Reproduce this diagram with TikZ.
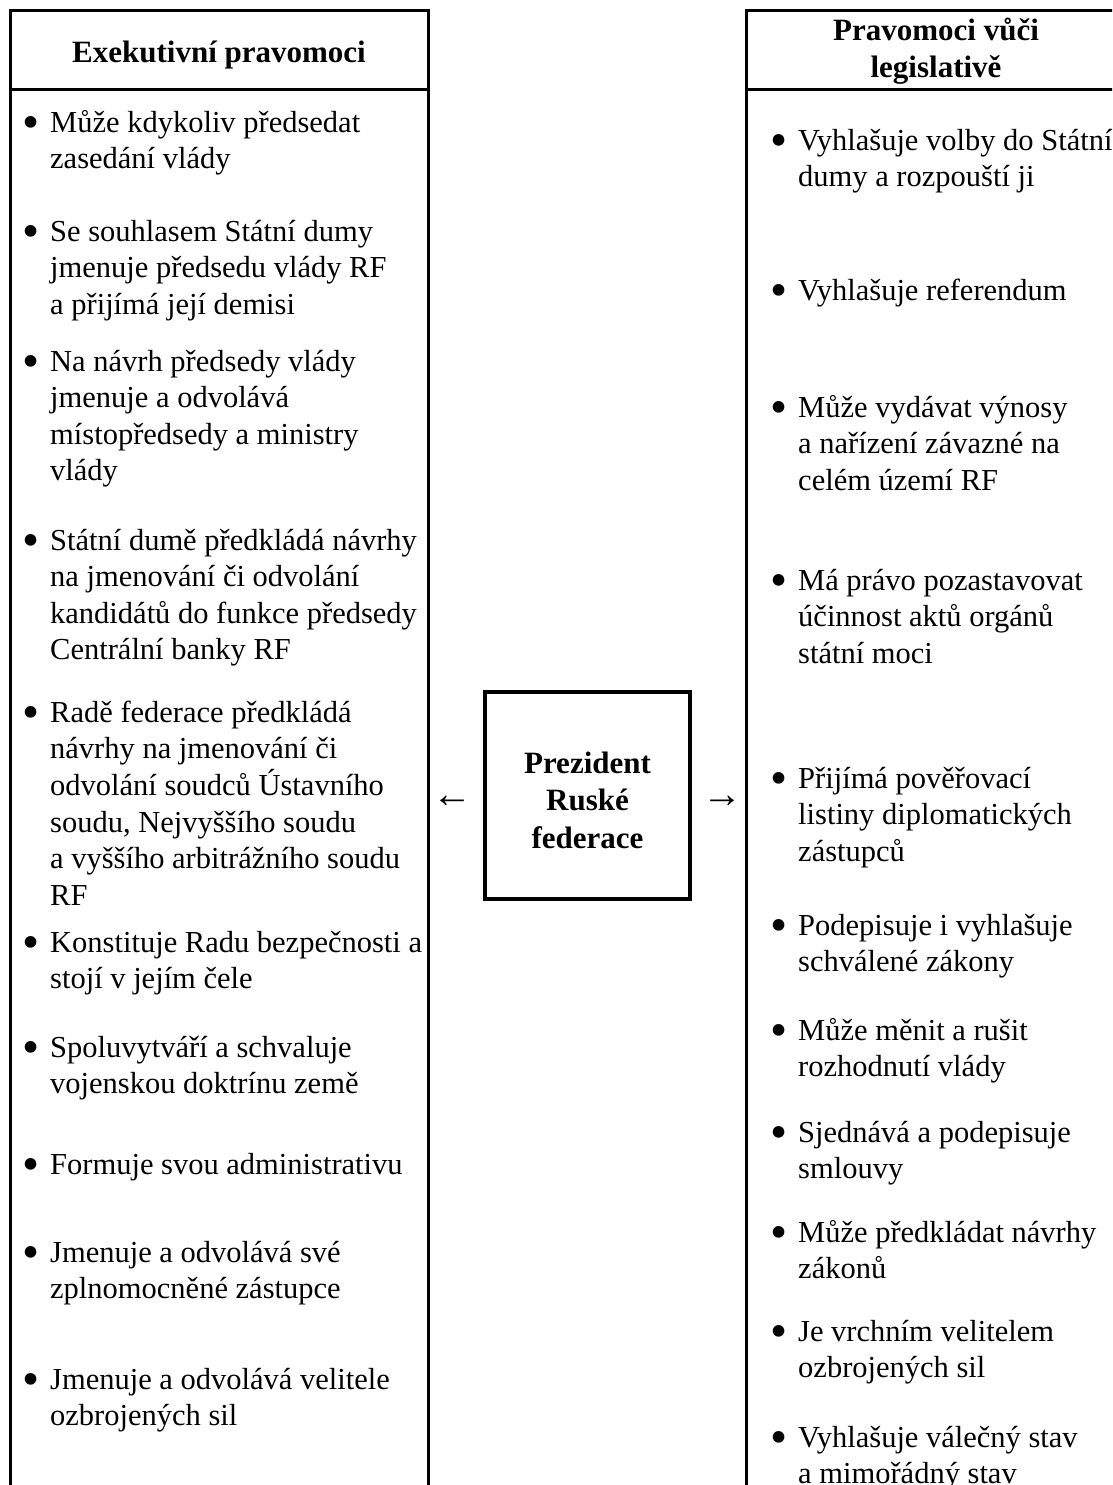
\documentclass[tikz,border=0pt]{standalone}
\usepackage{fontspec}
\setmainfont{Liberation Serif}
\usetikzlibrary{positioning}

% bullet item with hanging lines
\newcommand{\bul}{\makebox[28pt][l]{\raisebox{-0.22em}{\scalebox{1.6}{\textbullet}}}}
\newcommand{\bitem}[1]{\bul\begin{tabular}[t]{@{}l@{}}#1\end{tabular}}

\begin{document}
\begin{tikzpicture}[
  x=1pt, y=-1pt,
  frame/.style={line width=3pt},
  item/.style={anchor=base west, inner sep=0pt, font=\fontsize{30.5}{36.5}\selectfont},
  head/.style={align=center, inner sep=0pt, font=\fontsize{31}{36.5}\selectfont\bfseries},
  pres/.style={draw, line width=4pt, minimum width=205pt, minimum height=207pt, text height=106pt, align=center, font=\fontsize{31}{37.5}\selectfont\bfseries},
  arr/.style={inner sep=0pt, font=\fontsize{40}{40}\selectfont}
]
\clip (0,0) rectangle (1112,1485);

% Frames of the two columns
\draw[frame] (10,11) rectangle (428,1520);
\draw[frame] (10,90) -- (428,90);
\draw[frame] (746,11) rectangle (1140,1520);
\draw[frame] (746,90) -- (1140,90);

% Headings
\node[head] (exec_head) at (219,55) {Exekutivní pravomoci};
\node[head] (leg_head) at (936,51) {Pravomoci vůči\\legislativě};

% Executive powers
\node[item] (e1) at (22,132) {\bitem{Může kdykoliv předsedat\\zasedání vlády}};
\node[item] (e2) at (22,241) {\bitem{Se souhlasem Státní dumy\\jmenuje předsedu vlády RF\\a přijímá její demisi}};
\node[item] (e3) at (22,371) {\bitem{Na návrh předsedy vlády\\jmenuje a odvolává\\místopředsedy a ministry\\vlády}};
\node[item] (e4) at (22,550) {\bitem{Státní dumě předkládá návrhy\\na jmenování či odvolání\\kandidátů do funkce předsedy\\Centrální banky RF}};
\node[item] (e5) at (22,722) {\bitem{Radě federace předkládá\\návrhy na jmenování či\\odvolání soudců Ústavního\\soudu, Nejvyššího soudu\\a vyššího arbitrážního soudu\\RF}};
\node[item] (e6) at (22,952) {\bitem{Konstituje Radu bezpečnosti a\\stojí v jejím čele}};
\node[item] (e7) at (22,1057) {\bitem{Spoluvytváří a schvaluje\\vojenskou doktrínu země}};
\node[item] (e8) at (22,1174) {\bitem{Formuje svou administrativu}};
\node[item] (e9) at (22,1262) {\bitem{Jmenuje a odvolává své\\zplnomocněné zástupce}};
\node[item] (e10) at (22,1389) {\bitem{Jmenuje a odvolává velitele\\ozbrojených sil}};

% Powers towards the legislature
\node[item] (r1) at (770,150) {\bitem{Vyhlašuje volby do Státní\\dumy a rozpouští ji}};
\node[item] (r2) at (770,300) {\bitem{Vyhlašuje referendum}};
\node[item] (r3) at (770,417) {\bitem{Může vydávat výnosy\\a nařízení závazné na\\celém území RF}};
\node[item] (r4) at (770,590) {\bitem{Má právo pozastavovat\\účinnost aktů orgánů\\státní moci}};
\node[item] (r5) at (770,788) {\bitem{Přijímá pověřovací\\listiny diplomatických\\zástupců}};
\node[item] (r6) at (770,935) {\bitem{Podepisuje i vyhlašuje\\schválené zákony}};
\node[item] (r7) at (770,1040) {\bitem{Může měnit a rušit\\rozhodnutí vlády}};
\node[item] (r8) at (770,1142) {\bitem{Sjednává a podepisuje\\smlouvy}};
\node[item] (r9) at (770,1242) {\bitem{Může předkládat návrhy\\zákonů}};
\node[item] (r10) at (770,1341) {\bitem{Je vrchním velitelem\\ozbrojených sil}};
\node[item] (r11) at (770,1447) {\bitem{Vyhlašuje válečný stav\\a mimořádný stav}};

% President
\node[pres] (president) at (587.5,795.5) {Prezident\\Ruské\\federace};
\node[arr, left=10pt of president, yshift=-6pt] (to_exec) {←};
\node[arr, right=10pt of president, yshift=-6pt] (to_leg) {→};

\end{tikzpicture}
\end{document}
